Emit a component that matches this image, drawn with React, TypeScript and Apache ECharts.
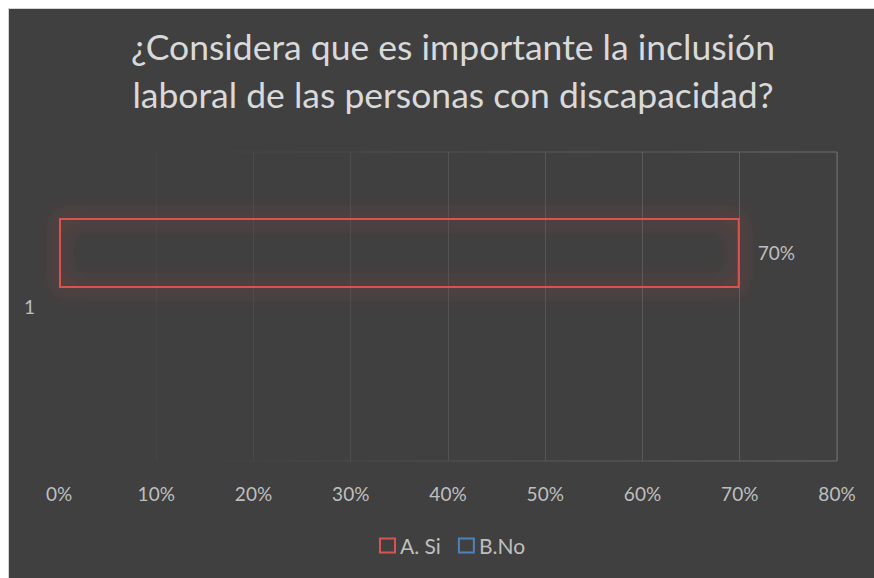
import React, { useEffect, useRef } from "react";
import * as echarts from "echarts";

const categories = ["1"];
const seriesNames = ["A. Si", "B.No"];
const siValues = [0.7];
const noValues: (number | null)[] = [null];
const xTicks = [0, 0.1, 0.2, 0.3, 0.4, 0.5, 0.6, 0.7, 0.8];
const titleLines = [
  "¿Considera que es importante la inclusión",
  "laboral de las personas con discapacidad?",
];

const RED = "#d9534f";
const BLUE = "#4f81bd";
const TXT = "#bfbfbf";
const FONT = "Lato, 'Open Sans', sans-serif";

export default function App() {
  const ref = useRef<HTMLDivElement>(null);
  useEffect(() => {
    if (!ref.current) return;
    const chart = echarts.init(ref.current, null, { renderer: "svg" });
    chart.setOption({
      animation: false,
      backgroundColor: "#404040",
      textStyle: { fontFamily: FONT },
      graphic: [
        {
          type: "text",
          x: 444,
          y: 13,
          style: {
            text: titleLines.join("\n"),
            fill: "#d9d9d9",
            font: `35.5px ${FONT}`,
            lineHeight: 48,
            align: "center",
            verticalAlign: "top",
          },
        },
      ],
      legend: {
        data: seriesNames,
        top: 526,
        left: 370,
        padding: 0,
        itemWidth: 15,
        itemHeight: 14,
        itemGap: 17,
        icon: "rect",
        textStyle: { color: TXT, fontSize: 21, fontFamily: FONT },
      },
      grid: {
        left: 50,
        right: 37,
        top: 143,
        bottom: 117,
        show: true,
        borderWidth: 1,
        borderColor: new echarts.graphic.LinearGradient(0, 0, 1, 0, [
          { offset: 0, color: "rgba(100,100,100,0)" },
          { offset: 0.15, color: "rgba(100,100,100,0)" },
          { offset: 1, color: "rgba(110,110,110,1)" },
        ]),
        backgroundColor: "transparent",
      },
      xAxis: {
        type: "value",
        min: xTicks[0],
        max: xTicks[xTicks.length - 1],
        interval: 0.1,
        axisLine: { show: false },
        axisTick: { show: false },
        axisLabel: {
          color: TXT,
          fontSize: 19,
          margin: 23,
          fontFamily: FONT,
          formatter: (v: number) => `${Math.round(v * 100)}%`,
        },
        splitLine: {
          show: true,
          lineStyle: {
            width: 1,
            color: [
              "rgba(0,0,0,0)",
              "#464646",
              "#4a4a4a",
              "#4e4e4e",
              "#525252",
              "#565656",
              "#5a5a5a",
              "#5e5e5e",
              "#626262",
            ],
          },
        },
      },
      yAxis: {
        type: "category",
        data: categories,
        axisLine: { show: false },
        axisTick: { show: false },
        axisLabel: { color: TXT, fontSize: 19, margin: 24, fontFamily: FONT },
      },
      series: [
        {
          name: seriesNames[0],
          type: "bar",
          data: siValues,
          barWidth: 70,
          barGap: "53%",
          itemStyle: {
            color: "rgba(0,0,0,0)",
            borderColor: RED,
            borderWidth: 2,
            shadowBlur: 20,
            shadowColor: "rgba(240,70,65,1)",
          },
          label: {
            show: true,
            position: "right",
            distance: 18,
            color: TXT,
            fontSize: 19,
            fontFamily: FONT,
            formatter: (p: any) => `${Math.round(p.value * 100)}%`,
          },
        },
        {
          name: seriesNames[1],
          type: "bar",
          data: noValues,
          barWidth: 70,
          itemStyle: {
            color: "rgba(0,0,0,0)",
            borderColor: BLUE,
            borderWidth: 2,
          },
        },
      ],
    });
    return () => chart.dispose();
  }, []);
  return (
    <div
      ref={ref}
      style={{
        position: "fixed",
        left: 8,
        top: 8,
        right: 0,
        bottom: 0,
        background: "#404040",
        boxSizing: "border-box",
        borderLeft: "1px solid #d4d4d4",
        borderTop: "1px solid #d4d4d4",
      }}
    />
  );
}
